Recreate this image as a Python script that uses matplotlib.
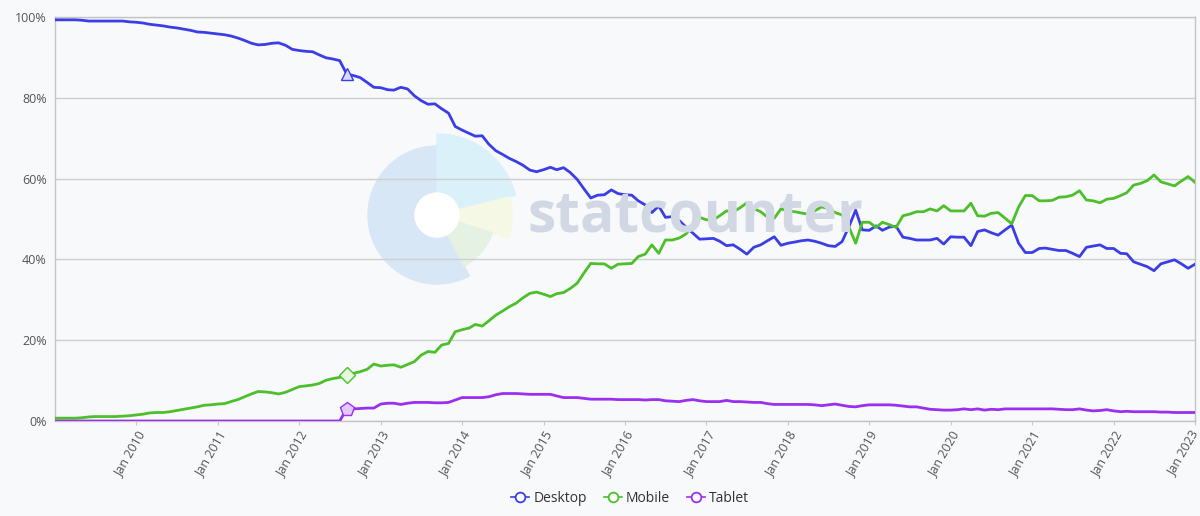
"""
Desktop vs Mobile vs Tablet market share, Jan 2009 - Jan 2023
"""
import pandas as pd
import matplotlib.pyplot as plt
from matplotlib.patches import Wedge, Circle

months = pd.date_range("2009-01-01", "2023-01-01", freq="MS")

desktop = [
    99.3, 99.3, 99.3, 99.3, 99.2, 99.0, 99.0, 99.0, 99.0, 99.0, 99.0, 98.8,
    98.7, 98.5, 98.2, 98.0, 97.8, 97.5, 97.3, 97.0, 96.7, 96.3, 96.2, 96.0,
    95.8, 95.6, 95.3, 94.8, 94.2, 93.5, 93.1, 93.2, 93.5, 93.6, 93.0, 92.0,
    91.7, 91.5, 91.4, 90.6, 89.9, 89.6, 89.2, 85.9, 85.5, 85.0, 83.8, 82.6,
    82.5, 82.0, 81.9, 82.6, 82.2, 80.5, 79.3, 78.4, 78.5, 77.3, 76.2, 72.9,
    72.0, 71.2, 70.5, 70.6, 68.5, 66.9, 66.0, 65.0, 64.2, 63.3, 62.1, 61.7,
    62.2, 62.8, 62.2, 62.7, 61.5, 59.8, 57.5, 55.2, 55.9, 56.0, 57.2, 56.3,
    56.0, 55.9, 54.5, 53.5, 51.6, 53.2, 50.4, 50.6, 49.6, 48.0, 46.5, 45.0,
    45.1, 45.2, 44.5, 43.4, 43.6, 42.5, 41.3, 43.0, 43.6, 44.6, 45.6, 43.5,
    44.0, 44.3, 44.6, 44.8, 44.5, 44.0, 43.4, 43.2, 44.4, 48.0, 52.2, 47.3,
    47.2, 48.3, 47.2, 48.0, 48.2, 45.5, 45.2, 44.8, 44.8, 44.8, 45.2, 43.8,
    45.6, 45.5, 45.5, 43.4, 46.9, 47.3, 46.6, 46.0, 47.3, 48.5, 44.0, 41.7,
    41.7, 42.7, 42.8, 42.5, 42.2, 42.2, 41.5, 40.7, 43.0, 43.3, 43.6, 42.7,
    42.7, 41.5, 41.4, 39.4, 38.8, 38.2, 37.2, 38.9, 39.4, 39.9, 38.9, 37.8,
    38.8,
]

mobile = [
    0.7, 0.7, 0.7, 0.7, 0.8, 1.0, 1.1, 1.1, 1.1, 1.1, 1.2, 1.3,
    1.5, 1.7, 2.0, 2.1, 2.1, 2.3, 2.6, 2.9, 3.2, 3.5, 3.9, 4.0,
    4.2, 4.3, 4.8, 5.3, 6.0, 6.7, 7.3, 7.2, 7.0, 6.7, 7.1, 7.8,
    8.5, 8.7, 8.9, 9.3, 10.1, 10.5, 10.8, 11.4, 11.8, 12.2, 12.8, 14.1,
    13.6, 13.8, 13.9, 13.3, 14.0, 14.7, 16.3, 17.2, 17.0, 18.8, 19.2, 22.1,
    22.6, 23.0, 23.9, 23.5, 24.8, 26.2, 27.2, 28.3, 29.2, 30.5, 31.6, 31.9,
    31.4, 30.8, 31.5, 31.8, 32.8, 34.1, 36.6, 39.0, 38.9, 38.9, 37.8, 38.8,
    38.9, 39.0, 40.7, 41.3, 43.6, 41.5, 44.8, 44.8, 45.3, 46.3, 48.3, 50.4,
    49.8, 49.8, 50.8, 52.0, 51.8, 52.8, 54.0, 52.6, 51.8, 50.5, 50.2, 52.5,
    52.0, 51.8, 51.5, 51.2, 52.0, 53.0, 52.6, 51.6, 51.0, 48.1, 44.0, 49.2,
    49.2, 47.9, 49.2, 48.6, 47.9, 50.8, 51.2, 51.8, 51.8, 52.5, 52.0, 53.3,
    52.0, 52.0, 52.0, 53.9, 50.8, 50.7, 51.4, 51.6, 50.2, 48.8, 53.0, 55.8,
    55.8, 54.5, 54.5, 54.6, 55.4, 55.5, 55.9, 57.0, 54.7, 54.5, 54.0, 54.9,
    55.1, 55.8, 56.5, 58.4, 58.8, 59.5, 60.9, 59.2, 58.7, 58.2, 59.4, 60.5,
    59.1,
]

tablet = [
    0, 0, 0, 0, 0, 0, 0, 0, 0, 0, 0, 0,
    0, 0, 0, 0, 0, 0, 0, 0, 0, 0, 0, 0,
    0, 0, 0, 0, 0, 0, 0, 0, 0, 0, 0, 0,
    0, 0, 0, 0, 0, 0, 0, 3.0, 3.0, 3.1, 3.2, 3.2,
    4.2, 4.4, 4.4, 4.1, 4.4, 4.6, 4.6, 4.6, 4.5, 4.5, 4.6, 5.2,
    5.8, 5.8, 5.8, 5.8, 6.0, 6.5, 6.8, 6.8, 6.8, 6.7, 6.6, 6.6,
    6.6, 6.6, 6.2, 5.8, 5.8, 5.8, 5.6, 5.4, 5.4, 5.4, 5.4, 5.3,
    5.3, 5.3, 5.3, 5.2, 5.3, 5.3, 5.0, 4.9, 4.8, 5.1, 5.3, 5.0,
    4.8, 4.8, 4.8, 5.1, 4.8, 4.8, 4.7, 4.6, 4.6, 4.3, 4.1, 4.1,
    4.1, 4.1, 4.1, 4.1, 4.0, 3.8, 4.0, 4.2, 3.9, 3.6, 3.5, 3.8,
    4.0, 4.0, 4.0, 4.0, 3.9, 3.7, 3.5, 3.5, 3.2, 2.9, 2.8, 2.7,
    2.7, 2.8, 3.0, 2.8, 3.0, 2.7, 2.9, 2.8, 3.0, 3.0, 3.0, 3.0,
    3.0, 3.0, 3.0, 3.0, 2.9, 2.8, 2.8, 3.0, 2.7, 2.5, 2.6, 2.8,
    2.5, 2.3, 2.4, 2.3, 2.3, 2.3, 2.3, 2.2, 2.2, 2.1, 2.1, 2.1,
    2.1,
]

labels = ["Desktop", "Mobile", "Tablet"]
colors = ["#3b3ee6", "#4cbf2a", "#9b2ff0"]
highlight_month = 43  # Aug 2012, where the hover markers sit

plt.rcParams["font.family"] = ["Open Sans", "DejaVu Sans"]

fig = plt.figure(figsize=(12, 5.16), dpi=100, facecolor="#f8f9fb")

# statcounter watermark logo (drawn under the chart)
logo = fig.add_axes([(437 - 95) / 1200, (516 - 215 - 95) / 516, 190 / 1200, 190 / 516])
logo.set_xlim(-95, 95)
logo.set_ylim(-95, 95)
logo.set_aspect("equal")
logo.axis("off")
logo.add_patch(Wedge((0, 0), 69, 90, 298, color="#d7e7f6"))
logo.add_patch(Wedge((0, 0), 81, 14, 90, color="#dbf1fa"))
logo.add_patch(Wedge((0, 0), 75, -18, 14, color="#f4f8e4"))
logo.add_patch(Wedge((0, 0), 58, -62, -18, color="#e5f1e2"))
logo.add_patch(Circle((0, 0), 22, color="white"))
fig.text(528 / 1200, (516 - 216) / 516, "statcounter", fontsize=41,
         fontweight="bold", color="#d1d8e4", va="center", ha="left")

ax = fig.add_axes([55 / 1200, 95 / 516, 1140 / 1200, 404 / 516])
ax.set_facecolor("none")

for series, name, col in zip([desktop, mobile, tablet], labels, colors):
    ax.plot(months, series, color=col, lw=2.0, label=name,
            solid_joinstyle="round", zorder=3)

ax.plot(months[highlight_month], desktop[highlight_month], marker="^", ms=9,
        mfc="#d8d8fa", mec=colors[0], mew=1.0, zorder=4)
ax.plot(months[highlight_month], mobile[highlight_month], marker="D", ms=8,
        mfc="#e6f6e0", mec=colors[1], mew=1.0, zorder=4)
ax.plot(months[highlight_month], tablet[highlight_month], marker="p", ms=10,
        mfc="#e2c8fb", mec=colors[2], mew=1.0, zorder=4)

ax.set_xlim(months[0], months[-1])
ax.set_ylim(0, 100)
ax.set_yticks([0, 20, 40, 60, 80, 100])
ax.set_yticklabels([f"{v}%" for v in [0, 20, 40, 60, 80, 100]])
ax.yaxis.grid(True, color="#cfcfcf", lw=1.0)
ax.set_axisbelow(True)

ticks = pd.date_range("2010-01-01", "2023-01-01", freq="YS")
tick_text = [t.strftime("Jan %Y") for t in ticks]
ax.set_xticks(ticks)
# the last label (right edge of the axes) is drawn by hand, nudged left
ax.set_xticklabels(tick_text[:-1] + [""], rotation=60,
                   ha="right", rotation_mode="anchor")
ax.annotate(tick_text[-1], xy=(1, 0), xycoords="axes fraction",
            xytext=(-4, -5.2), textcoords="offset points", rotation=60,
            ha="right", va="top", rotation_mode="anchor", fontsize=9,
            color="#555555", annotation_clip=False)

ax.tick_params(axis="x", length=3, color="#c8c8c8", labelsize=9,
               labelcolor="#555555", pad=3)
ax.tick_params(axis="y", length=0, labelsize=9, labelcolor="#555555", pad=6)

for side in ["left", "right", "top", "bottom"]:
    ax.spines[side].set_color("#c4c4c4")
    ax.spines[side].set_linewidth(1.0)

handles = [plt.Line2D([], [], color=c, lw=1.2, marker="o", ms=7, mfc="white",
                      mec=c, mew=1.3) for c in colors]
fig.legend(handles, labels, loc="center", bbox_to_anchor=(630 / 1200, 18 / 516),
           ncol=3, frameon=False, fontsize=10, handlelength=1.3,
           handletextpad=0.3, columnspacing=1.2, labelcolor="#333333")

fig.savefig("out.png", dpi=100, facecolor=fig.get_facecolor())
